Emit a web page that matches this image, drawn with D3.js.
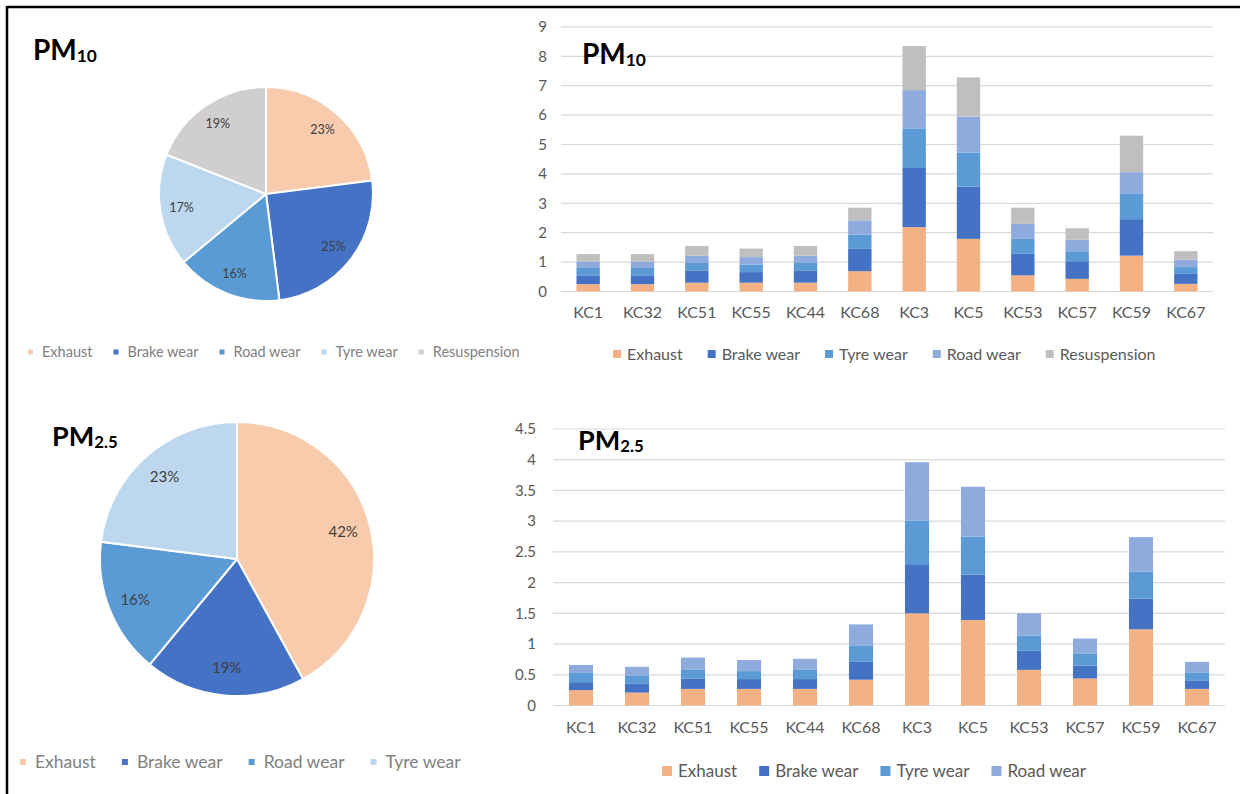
<!DOCTYPE html>
<html><head><meta charset="utf-8">
<script src="https://cdn.jsdelivr.net/npm/d3@7"></script>
<style>
html,body{margin:0;padding:0;background:#fff;}
svg{display:block;}
text{font-family:Lato,"Liberation Sans",sans-serif;}
</style></head>
<body>
<svg id="c" width="1240" height="794"></svg>
<script>
// ---------- DATA ----------
const categories = ["KC1","KC32","KC51","KC55","KC44","KC68","KC3","KC5","KC53","KC57","KC59","KC67"];

// PM10 stacked components
const pm10Exhaust      = [0.25,0.25,0.30,0.30,0.30,0.69,2.19,1.79,0.55,0.43,1.22,0.26];
const pm10Brake        = [0.30,0.30,0.42,0.36,0.42,0.76,2.01,1.78,0.73,0.60,1.24,0.34];
const pm10Tyre         = [0.25,0.25,0.25,0.26,0.25,0.49,1.35,1.16,0.51,0.34,0.86,0.23];
const pm10Road         = [0.22,0.22,0.25,0.25,0.25,0.48,1.30,1.22,0.51,0.39,0.74,0.25];
const pm10Resuspension = [0.25,0.25,0.33,0.29,0.33,0.43,1.50,1.33,0.55,0.39,1.24,0.29];

// PM2.5 stacked components
const pm25Exhaust = [0.25,0.21,0.27,0.27,0.27,0.42,1.50,1.39,0.58,0.44,1.24,0.27];
const pm25Brake   = [0.13,0.15,0.17,0.16,0.16,0.29,0.80,0.74,0.31,0.21,0.50,0.14];
const pm25Tyre    = [0.15,0.13,0.14,0.13,0.15,0.26,0.71,0.62,0.25,0.19,0.44,0.13];
const pm25Road    = [0.13,0.14,0.20,0.18,0.18,0.35,0.95,0.81,0.36,0.25,0.56,0.17];

const pm10Ticks = [0,1,2,3,4,5,6,7,8,9];
const pm25Ticks = [0,0.5,1,1.5,2,2.5,3,3.5,4,4.5];

// Pie shares (%)
const pie10Labels = ["Exhaust","Brake wear","Road wear","Tyre wear","Resuspension"];
const pie10Values = [23,25,16,17,19];
const pie25Labels = ["Exhaust","Brake wear","Road wear","Tyre wear"];
const pie25Values = [42,19,16,23];

const bar10Series = ["Exhaust","Brake wear","Tyre wear","Road wear","Resuspension"];
const bar25Series = ["Exhaust","Brake wear","Tyre wear","Road wear"];

// ---------- STYLE ----------
const pieColors = {"Exhaust":"#f8cbad","Brake wear":"#4472c4","Road wear":"#5b9bd5","Tyre wear":"#bdd7ee","Resuspension":"#d0cece"};
const barColors = {"Exhaust":"#f4b183","Brake wear":"#4472c4","Tyre wear":"#5b9bd5","Road wear":"#8faadc","Resuspension":"#bfbfbf"};

const svg = d3.select("#c");

// border
svg.append("line").attr("x1",7).attr("x2",1240).attr("y1",7).attr("y2",7).attr("stroke","#000").attr("stroke-width",2.5);
svg.append("line").attr("x1",7).attr("x2",7).attr("y1",6).attr("y2",794).attr("stroke","#000").attr("stroke-width",2.5);

function title(x, y, main, sub, size){
  const t = svg.append("text").attr("x",x).attr("y",y).attr("font-weight","bold")
    .attr("font-size",size).attr("fill","#000");
  t.append("tspan").text(main);
  t.append("tspan").attr("font-size",size*0.62).attr("dy",size*0.08).text(sub);
}

// ---------- PIES ----------
function drawPie(cx, cy, r, labels, values, labelSize, labelColor){
  const data = labels.map((l,i)=>({label:l, value:values[i]}));
  const pie = d3.pie().sort(null).value(d=>d.value);
  const arc = d3.arc().innerRadius(0).outerRadius(r);
  const lab = d3.arc().innerRadius(r*0.8).outerRadius(r*0.8);
  const g = svg.append("g").attr("transform",`translate(${cx},${cy})`);
  const arcs = pie(data);
  g.selectAll("path").data(arcs).join("path")
    .attr("d",arc).attr("fill",d=>pieColors[d.data.label])
    .attr("stroke","#fff").attr("stroke-width",2);
  g.selectAll("text").data(arcs).join("text")
    .attr("transform",d=>`translate(${lab.centroid(d)})`)
    .attr("text-anchor","middle").attr("dy","0.35em")
    .attr("font-size",labelSize).attr("fill",labelColor)
    .text(d=>d.data.value+"%");
}

function drawLegend(x0, y, items, colors, sq, gapSq, gapItem, fontSize, color){
  let x = x0;
  items.forEach(name=>{
    svg.append("rect").attr("x",x).attr("y",y-sq/2).attr("width",sq).attr("height",sq).attr("fill",colors[name]);
    const t = svg.append("text").attr("x",x+sq+gapSq).attr("y",y).attr("dy","0.35em")
      .attr("font-size",fontSize).attr("fill",color).text(name);
    x = x + sq + gapSq + t.node().getComputedTextLength() + gapItem;
  });
}

title(33, 60, "PM", "10", 28);
drawPie(266, 194, 107, pie10Labels, pie10Values, 12.5, "#404040");
drawLegend(28, 352, pie10Labels, pieColors, 5, 9, 21, 14.5, "#808080");

title(52, 446, "PM", "2.5", 27);
drawPie(237, 559, 137, pie25Labels, pie25Values, 15, "#404040");
drawLegend(20, 762, pie25Labels, pieColors, 6, 9, 26, 17.5, "#808080");

// ---------- BAR CHARTS ----------
function drawBars(opt){
  const x = d3.scaleBand().domain(categories).range([opt.x0,opt.x1]).paddingInner(opt.pad).paddingOuter(opt.pad/2);
  const y = d3.scaleLinear().domain([0,opt.max]).range([opt.y0,opt.y1]);
  const rows = categories.map((c,i)=>{
    const o = {cat:c};
    opt.series.forEach((s,j)=>{ o[s] = opt.values[j][i]; });
    return o;
  });
  const stack = d3.stack().keys(opt.series)(rows);
  const g = svg.append("g");
  // gridlines
  g.selectAll("line.grid").data(opt.ticks).join("line")
    .attr("x1",opt.x0).attr("x2",opt.x1)
    .attr("y1",d=>y(d)).attr("y2",d=>y(d))
    .attr("stroke","#d9d9d9").attr("stroke-width",1.2);
  // y axis labels
  const ya = d3.axisLeft(y).tickValues(opt.ticks).tickSize(0).tickPadding(opt.tickPad).tickFormat(d=>String(d));
  const yg = svg.append("g").attr("transform",`translate(${opt.x0},0)`).call(ya);
  yg.select(".domain").remove();
  yg.selectAll("text").attr("font-size",15).attr("fill","#595959").attr("font-family","Lato,'Liberation Sans',sans-serif");
  // bars
  stack.forEach(layer=>{
    g.append("g").attr("fill",barColors[layer.key])
      .selectAll("rect").data(layer).join("rect")
      .attr("x",d=>x(d.data.cat)).attr("width",x.bandwidth())
      .attr("y",d=>y(d[1])).attr("height",d=>y(d[0])-y(d[1]));
  });
  // x axis labels
  const xa = d3.axisBottom(x).tickSize(0).tickPadding(opt.xPad);
  const xg = svg.append("g").attr("transform",`translate(0,${opt.y0})`).call(xa);
  xg.select(".domain").remove();
  xg.selectAll("text").attr("font-size",16).attr("fill","#595959").attr("font-family","Lato,'Liberation Sans',sans-serif");
}

drawBars({x0:561,x1:1213,y0:291.5,y1:291.5-9*29.4,max:9,ticks:pm10Ticks,pad:0.57,
  series:bar10Series,values:[pm10Exhaust,pm10Brake,pm10Tyre,pm10Road,pm10Resuspension],tickPad:14,xPad:15});
title(582, 64, "PM", "10", 28);
drawLegend(613, 354, bar10Series, barColors, 8, 6, 25, 16, "#595959");

drawBars({x0:553,x1:1225,y0:705.5,y1:429,max:4.5,ticks:pm25Ticks,pad:0.57,
  series:bar25Series,values:[pm25Exhaust,pm25Brake,pm25Tyre,pm25Road],tickPad:17,xPad:16});
title(578, 450, "PM", "2.5", 27);
drawLegend(662, 771, bar25Series, barColors, 10, 6, 22, 17, "#595959");
</script>
</body></html>
